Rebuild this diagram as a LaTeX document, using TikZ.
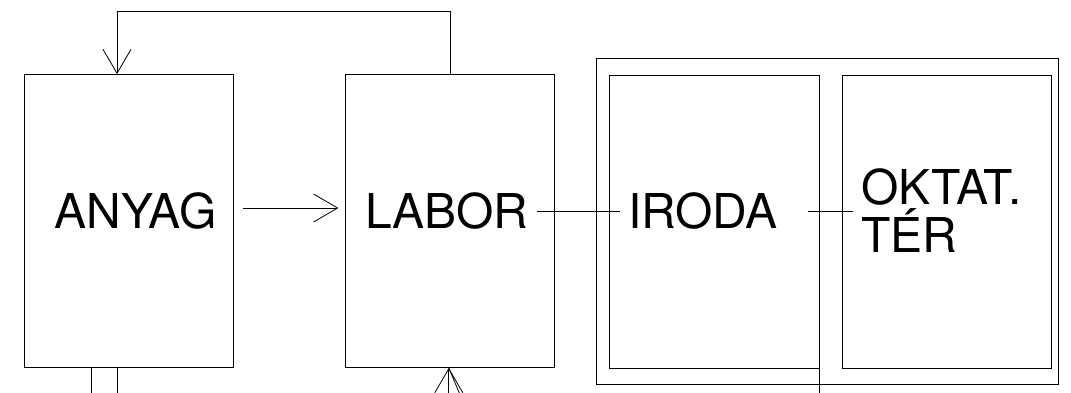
\documentclass[tikz,border=0pt]{standalone}
\usepackage{fontspec}
\setmainfont{TeX Gyre Heros}
\usepackage{tikz}
\usetikzlibrary{positioning,arrows.meta,calc}

\begin{document}
\begin{tikzpicture}[
  x=1pt,y=-1pt,
  font=\fontsize{48}{48}\selectfont,
  room/.style={draw=black,line width=0.8pt,minimum width=209pt,minimum height=293pt,inner sep=0pt},
  wing/.style={draw=black,line width=0.8pt,minimum width=462pt,minimum height=326pt,inner sep=0pt},
  roomname/.style={inner sep=8pt,align=left},
  link/.style={draw=black,line width=0.8pt},
  flow/.style={link,-{Straight Barb[length=24pt,width=28pt,line width=0.8pt]}}
]
\useasboundingbox (0,0) rectangle (1071,392);
\clip (0,0) rectangle (1071,392);

% Rooms
\node[room] (anyag) at (128.5,221) {};
\node[room,right=112pt of anyag] (labor) {};
\node[wing] (szarny) at (827,221) {};
\node[room,minimum width=210pt] (iroda) at (714,221.5) {};
\node[room,right=23pt of iroda] (oktat) {};

% Room names
\node[roomname] (anyag-t) at (135.5,211) {ANYAG};
\node[roomname] (labor-t) at (447,211) {LABOR};
\node[roomname,anchor=west] (iroda-t) at (620,211) {IRODA};
\node[roomname,anchor=west] (oktat-t) at (853,211) {OKTAT.\\TÉR};

% Connections
\draw[flow] (labor.north) -- ++(0,-63) -| ([xshift=-11.5pt]anyag.north);
\draw[flow] ([xshift=10pt,yshift=13pt]anyag.east) -- ([xshift=-7pt,yshift=13pt]labor.west);
\draw[link] (labor-t.east) -- (iroda-t.west);
\draw[link] ([xshift=-11pt]iroda.east |- oktat-t.west) -- (oktat-t.west);

% Lines leaving the picture at the bottom
\coordinate (ki1) at ([xshift=-37.5pt]anyag.south);
\coordinate (ki2) at ([xshift=-11.5pt]anyag.south);
\coordinate (be) at ([xshift=-1.5pt]labor.south);
\draw[link] (ki1) -- ++(0,40);
\draw[link] (ki2) -- ++(0,40);
\draw[flow] ($(be)+(0,40)$) -- (be);
\draw[link] ($(be)+(16.7,40)$) -- (be);
\draw[link] (iroda.south east) -- ++(0,40);
\end{tikzpicture}
\end{document}
